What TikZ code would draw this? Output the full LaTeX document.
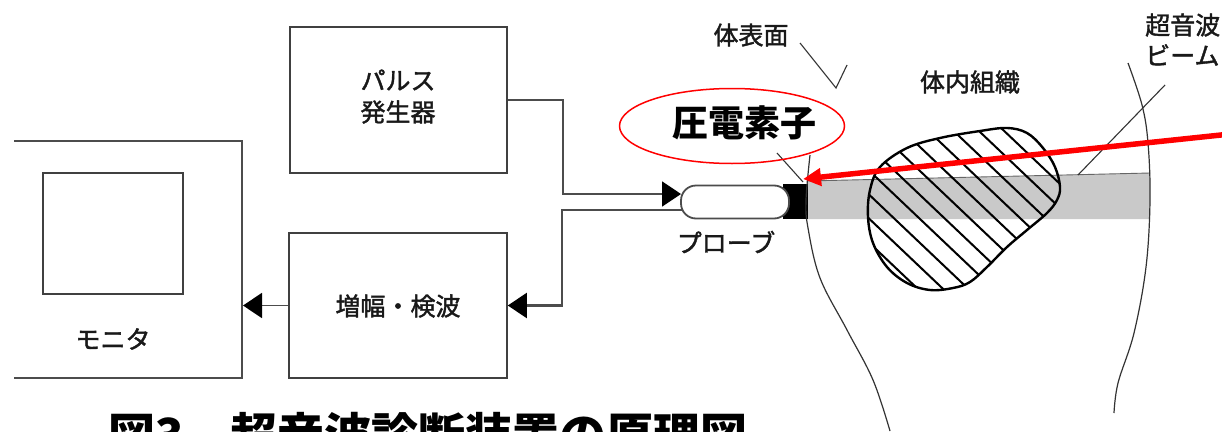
\documentclass[tikz,border=0pt]{standalone}
\usepackage{fontspec}
\newfontfamily\jp{Noto Sans CJK JP}
\newfontfamily\jpmid[FakeBold=1.6]{Noto Sans CJK JP}
\usetikzlibrary{arrows.meta,shapes.geometric}

\tikzset{
  block/.style={draw=black!75, line width=1.6pt, inner sep=0pt},
  lbl/.style={inner sep=0pt, font=\jpmid\fontsize{25}{30}\selectfont, text=black!90},
  wire/.style={draw=black!70, line width=1.6pt},
  head/.style={-{Triangle[length=19pt,width=25pt,color=black]}},
  bodyline/.style={draw=black!80, line width=1.2pt},
  leader/.style={draw=black!80, line width=1.1pt},
}

\begin{document}
\begin{tikzpicture}[x=1pt,y=-1pt]
\useasboundingbox (0,0) rectangle (1222,431);
\clip (0,0) rectangle (1222,431);
\fill[white] (0,0) rectangle (1222,431);

% pulse generator
\node[block, minimum width=217pt, minimum height=146pt] (pulse) at (398.5,100) {};
\node[lbl] (pulseA) at (398,80) {パルス};
\node[lbl] (pulseB) at (398,112) {発生器};

% amplifier / detector
\node[block, minimum width=218pt, minimum height=145pt] (amp) at (398,305.5) {};
\node[lbl] (ampT) at (398,306) {増幅・検波};

% monitor
\draw[wire] (14,141) -- (242,141) -- (242,378) -- (14,378);
\node[block, minimum width=140pt, minimum height=121pt] (screen) at (113,233.5) {};
\node[lbl] (monT) at (113,339) {モニタ};
\coordinate (monin) at (243,305.5);

% ultrasound beam
\fill[black!21] (807,181) -- (1150,173) -- (1150,219) -- (807,219) -- cycle;
\draw[black!60, line width=0.9pt] (807,181) -- (1150,173);

% probe wiring
\coordinate (probein) at (681,194);
\coordinate (probeout) at (682,210);
\draw[wire, head] (pulse.east) -- ++(55,0) |- (probein);
\draw[wire, line width=2.2pt, head] (probeout) -- (562,210) |- (amp.east);
\draw[wire, head] (amp.west) -- (monin);

% probe body and piezo element
\node[fill=black, inner sep=0pt, minimum width=25pt, minimum height=35pt] (element) at (795,201.5) {};
\node[draw=black!70, line width=1.8pt, fill=white, rounded corners=15pt,
      inner sep=0pt, minimum width=108pt, minimum height=33pt] (capsule) at (735,202) {};

% tissue with hatching
\def\tumor{plot[smooth cycle, tension=0.6] coordinates {
  (880,167) (907,148) (940,138) (980,131) (1007,128) (1027,133) (1043,148)
  (1055,167) (1060,187) (1057,200) (1047,213) (1027,230) (1007,247) (987,267)
  (970,282) (953,288) (930,290) (907,283) (887,267) (873,243) (868,217) (870,190)}}
\begin{scope}
  \clip \tumor;
  \foreach \c in {-583,-607,...,-860}
    \draw[black, line width=2pt] (780,{0.95*780+\c}) -- (1120,{0.95*1120+\c});
\end{scope}
\draw[black, line width=2.4pt] \tumor;

% body surfaces
\draw[bodyline] plot[smooth, tension=0.6] coordinates {(810,155) (806,200) (808,228) (820,278) (847,330) (873,380) (890,431)};
\draw[bodyline] plot[smooth, tension=0.6] coordinates {(1128,63) (1142,105) (1148,143) (1150,200) (1146,267) (1134,333) (1118,383) (1114,413)};

% leader lines
\draw[leader] (800,43) -- (836,88) -- (847,65);
\draw[leader] (777,153) -- (803,182);
\draw[leader] (1165,85) -- (1078,175);

% labels
\node[lbl] (surf) at (751,35) {体表面};
\node[lbl] (tissue) at (970,82) {体内組織};
\node[lbl] (probeT) at (726,242) {プローブ};
\node[lbl, anchor=west] (beamA) at (1145,25) {超音波};
\node[lbl, anchor=west] (beamB) at (1145,55) {ビーム};

% highlighted piezo element
\node[ellipse, draw=red, line width=1.5pt, inner sep=0pt,
      minimum width=225pt, minimum height=75pt] (ring) at (732,126) {};
\node[inner sep=0pt, font=\jp\bfseries\fontsize{36}{40}\selectfont] (piezo) at (744,123) {圧電素子};
\coordinate (rayfrom) at (1240,133);
\coordinate (raytip) at (803,179);
\draw[red, line width=5.5pt, -{Triangle[length=18pt,width=17pt]}] (rayfrom) -- (raytip);

% caption
\node[inner sep=0pt, anchor=base west, font=\jp\bfseries\fontsize{47}{50}\selectfont] (caption)
  at (108,452) {図3　超音波診断装置の原理図};
\end{tikzpicture}
\end{document}
